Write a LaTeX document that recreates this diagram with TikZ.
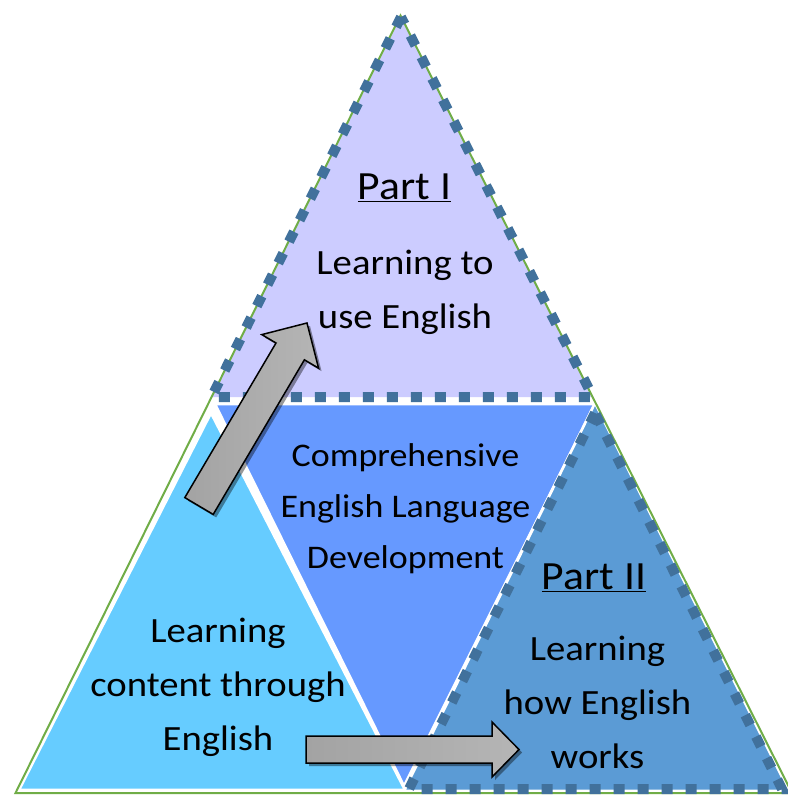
\documentclass[tikz,border=0pt]{standalone}
\usepackage{fontspec}
\setmainfont{Carlito}[FakeStretch=1.09]
\usetikzlibrary{shadows}
\definecolor{lav}{HTML}{CCCCFF}
\definecolor{midblue}{HTML}{6699FF}
\definecolor{ltblue}{HTML}{66CCFF}
\definecolor{ptwo}{HTML}{5B9BD5}
\definecolor{dotc}{HTML}{41719C}
\definecolor{grn}{HTML}{70AD47}
\definecolor{arrA}{HTML}{A3A3A3}
\definecolor{arrB}{HTML}{B5B5B5}
\tikzset{
  part/.style={draw=white, line width=2.6pt, line join=miter},
  dotline/.style={draw=dotc, line width=10pt, dash pattern=on 11pt off 13pt, line join=miter},
  outline/.style={draw=grn, line width=2pt},
  blockarrow/.style={draw=black, line width=1.5pt, left color=arrA, right color=arrB, line join=miter,
    drop shadow={shadow xshift=3pt, shadow yshift=-3pt, opacity=0.4, fill=black}},
  bodytext/.style={font=\fontsize{35.5}{54}\selectfont, align=center, anchor=base, inner sep=0pt, text=black},
  midtext/.style={font=\fontsize{33}{51}\selectfont, align=center, anchor=base, inner sep=0pt, text=black},
  parttext/.style={font=\fontsize{40}{48}\selectfont, align=center, anchor=base, inner sep=0pt, text=black},
}
\begin{document}
\begin{tikzpicture}[x=1pt,y=-1pt]
\useasboundingbox (0,0) rectangle (787,795);
\fill[white] (0,0) rectangle (787,795);
% Part I (top)
\fill[lav] (401,17) -- (211.5,397) -- (593,397) -- cycle;
% centre inverted triangle
\filldraw[part, fill=midblue] (215,404) -- (595,404) -- (404,786) -- cycle;
% left triangle
\filldraw[part, fill=ltblue] (211,413) -- (19,790) -- (405,790) -- cycle;
% Part II (right)
\filldraw[part, fill=ptwo] (595,403) -- (404,791) -- (789,791) -- cycle;
% outer outline
\draw[outline] (400.5,15.5) -- (15.5,793) -- (792,793) -- cycle;
% dotted borders
\draw[dotline] (401,17) -- (211.5,397) -- (593,397) -- cycle;
\draw[dotline] (595,413) -- (409,789) -- (782,789) -- cycle;
% block arrows
\filldraw[blockarrow] (184.8,497.6) -- (276,343) -- (261.8,334.6) -- (307,323) -- (318.6,368.2) -- (304.4,359.8) -- (213.2,514.4) -- cycle;
\filldraw[blockarrow] (306,736) -- (492,736) -- (492,722) -- (519,749.5) -- (492,777) -- (492,763) -- (306,763) -- cycle;
% texts (anchor = baseline of the last line)
\node[parttext] (p1title) at (404.5,199.5) {\underline{Part I}};
\node[bodytext] (p1body) at (405,328) {Learning to\\use English};
\node[midtext] (centre) at (405.5,568) {Comprehensive\\English Language\\Development};
\node[bodytext] (leftbody) at (218,750.5) {Learning\\content through\\English};
\node[parttext] (p2title) at (594,589) {\underline{Part II}};
\node[bodytext] (p2body) at (597.5,768) {Learning\\how English\\works};
\end{tikzpicture}
\end{document}
